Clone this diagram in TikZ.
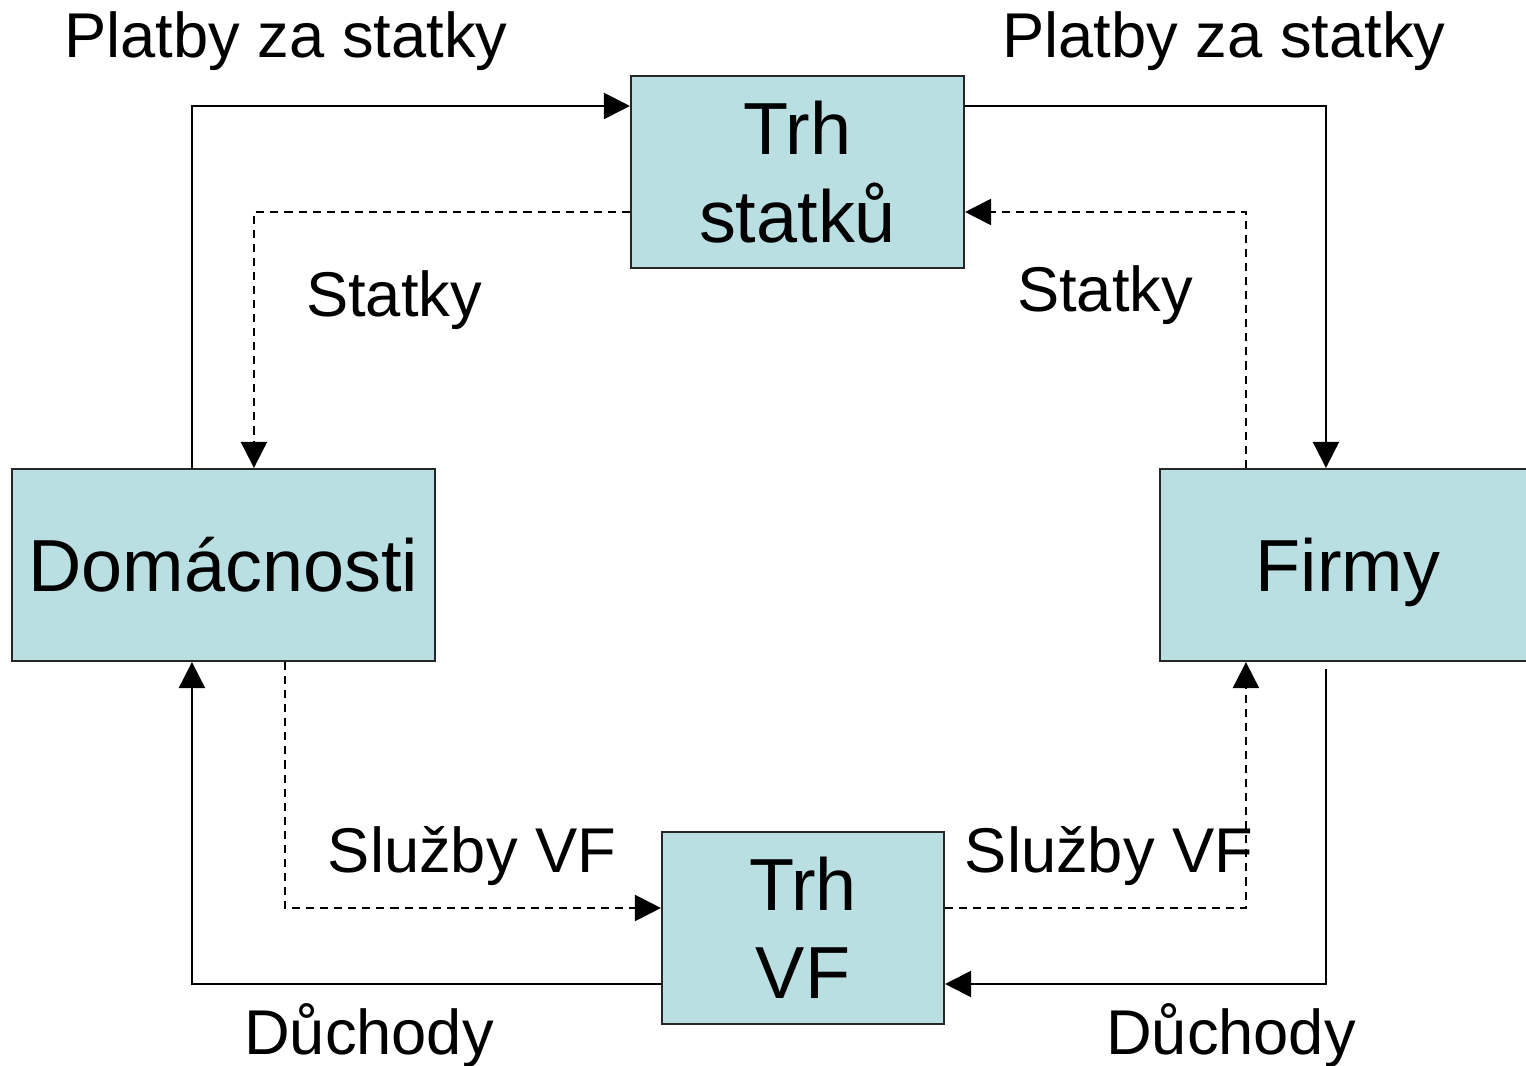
\documentclass[tikz,border=0pt]{standalone}
\usepackage{fontspec}
\setmainfont{Liberation Sans}
\usepackage{xcolor}
\usetikzlibrary{arrows.meta}
\definecolor{boxfill}{HTML}{B9DFE2}

\begin{document}
\begin{tikzpicture}[box/.style={draw=black!85, line width=0.6pt, fill=boxfill,
        font=\fontsize{21}{25}\selectfont, align=center, minimum height=1.92cm, inner sep=0pt},
    flow/.style={line width=0.6pt, -{Triangle[length=2.6mm,width=2.6mm]}},
    goods/.style={flow, dash pattern=on 2.3pt off 1.7pt},
    lab/.style={font=\fontsize{18}{21}\selectfont, anchor=base}]
    \useasboundingbox (0,0) rectangle (15.26,-10.66);

    \node [box, minimum width=3.33cm] (trhs) at (7.975,-1.72) {Trh\\statků};
    \node [box, minimum width=4.23cm] (dom) at (2.235,-5.65) {Domácnosti};
    \node [box, minimum width=3.76cm, text depth=0pt] (firmy) at (13.48,-5.65) {Firmy};
    \node [box, minimum width=2.82cm] (trhvf) at (8.03,-9.28) {Trh\\VF};

    % penize
    \draw [flow] ([xshift=18.1mm]dom.north west) |- ([yshift=6.6mm]trhs.west);
    \draw [flow] ([yshift=6.6mm]trhs.east) -| ([xshift=16.7mm]firmy.north west);
    \draw [flow] ([xshift=16.7mm,yshift=-0.7mm]firmy.south west) |- ([yshift=-5.6mm]trhvf.east);
    \draw [flow] ([yshift=-5.6mm]trhvf.west) -| ([xshift=18.1mm]dom.south west);
    % statky a sluzby
    \draw [goods] ([xshift=8.7mm]firmy.north west) |- ([yshift=-4mm]trhs.east);
    \draw [goods] ([yshift=-4mm]trhs.west) -| ([xshift=24.3mm]dom.north west);
    \draw [goods] ([xshift=27.4mm]dom.south west) |- ([yshift=2mm]trhvf.west);
    \draw [goods] ([yshift=2mm]trhvf.east) -| ([xshift=8.7mm]firmy.south west);

    \node [lab] (platL) at (2.86,-0.58) {Platby za statky};
    \node [lab] (platR) at (12.24,-0.58) {Platby za statky};
    \node [lab] (statL) at (3.94,-3.17) {Statky};
    \node [lab] (statR) at (11.05,-3.12) {Statky};
    \node [lab] (sluzL) at (4.72,-8.73) {Služby VF};
    \node [lab] (sluzR) at (11.09,-8.73) {Služby VF};
    \node [lab] (duchL) at (3.69,-10.55) {Důchody};
    \node [lab] (duchR) at (12.31,-10.55) {Důchody};
\end{tikzpicture}
\end{document}
